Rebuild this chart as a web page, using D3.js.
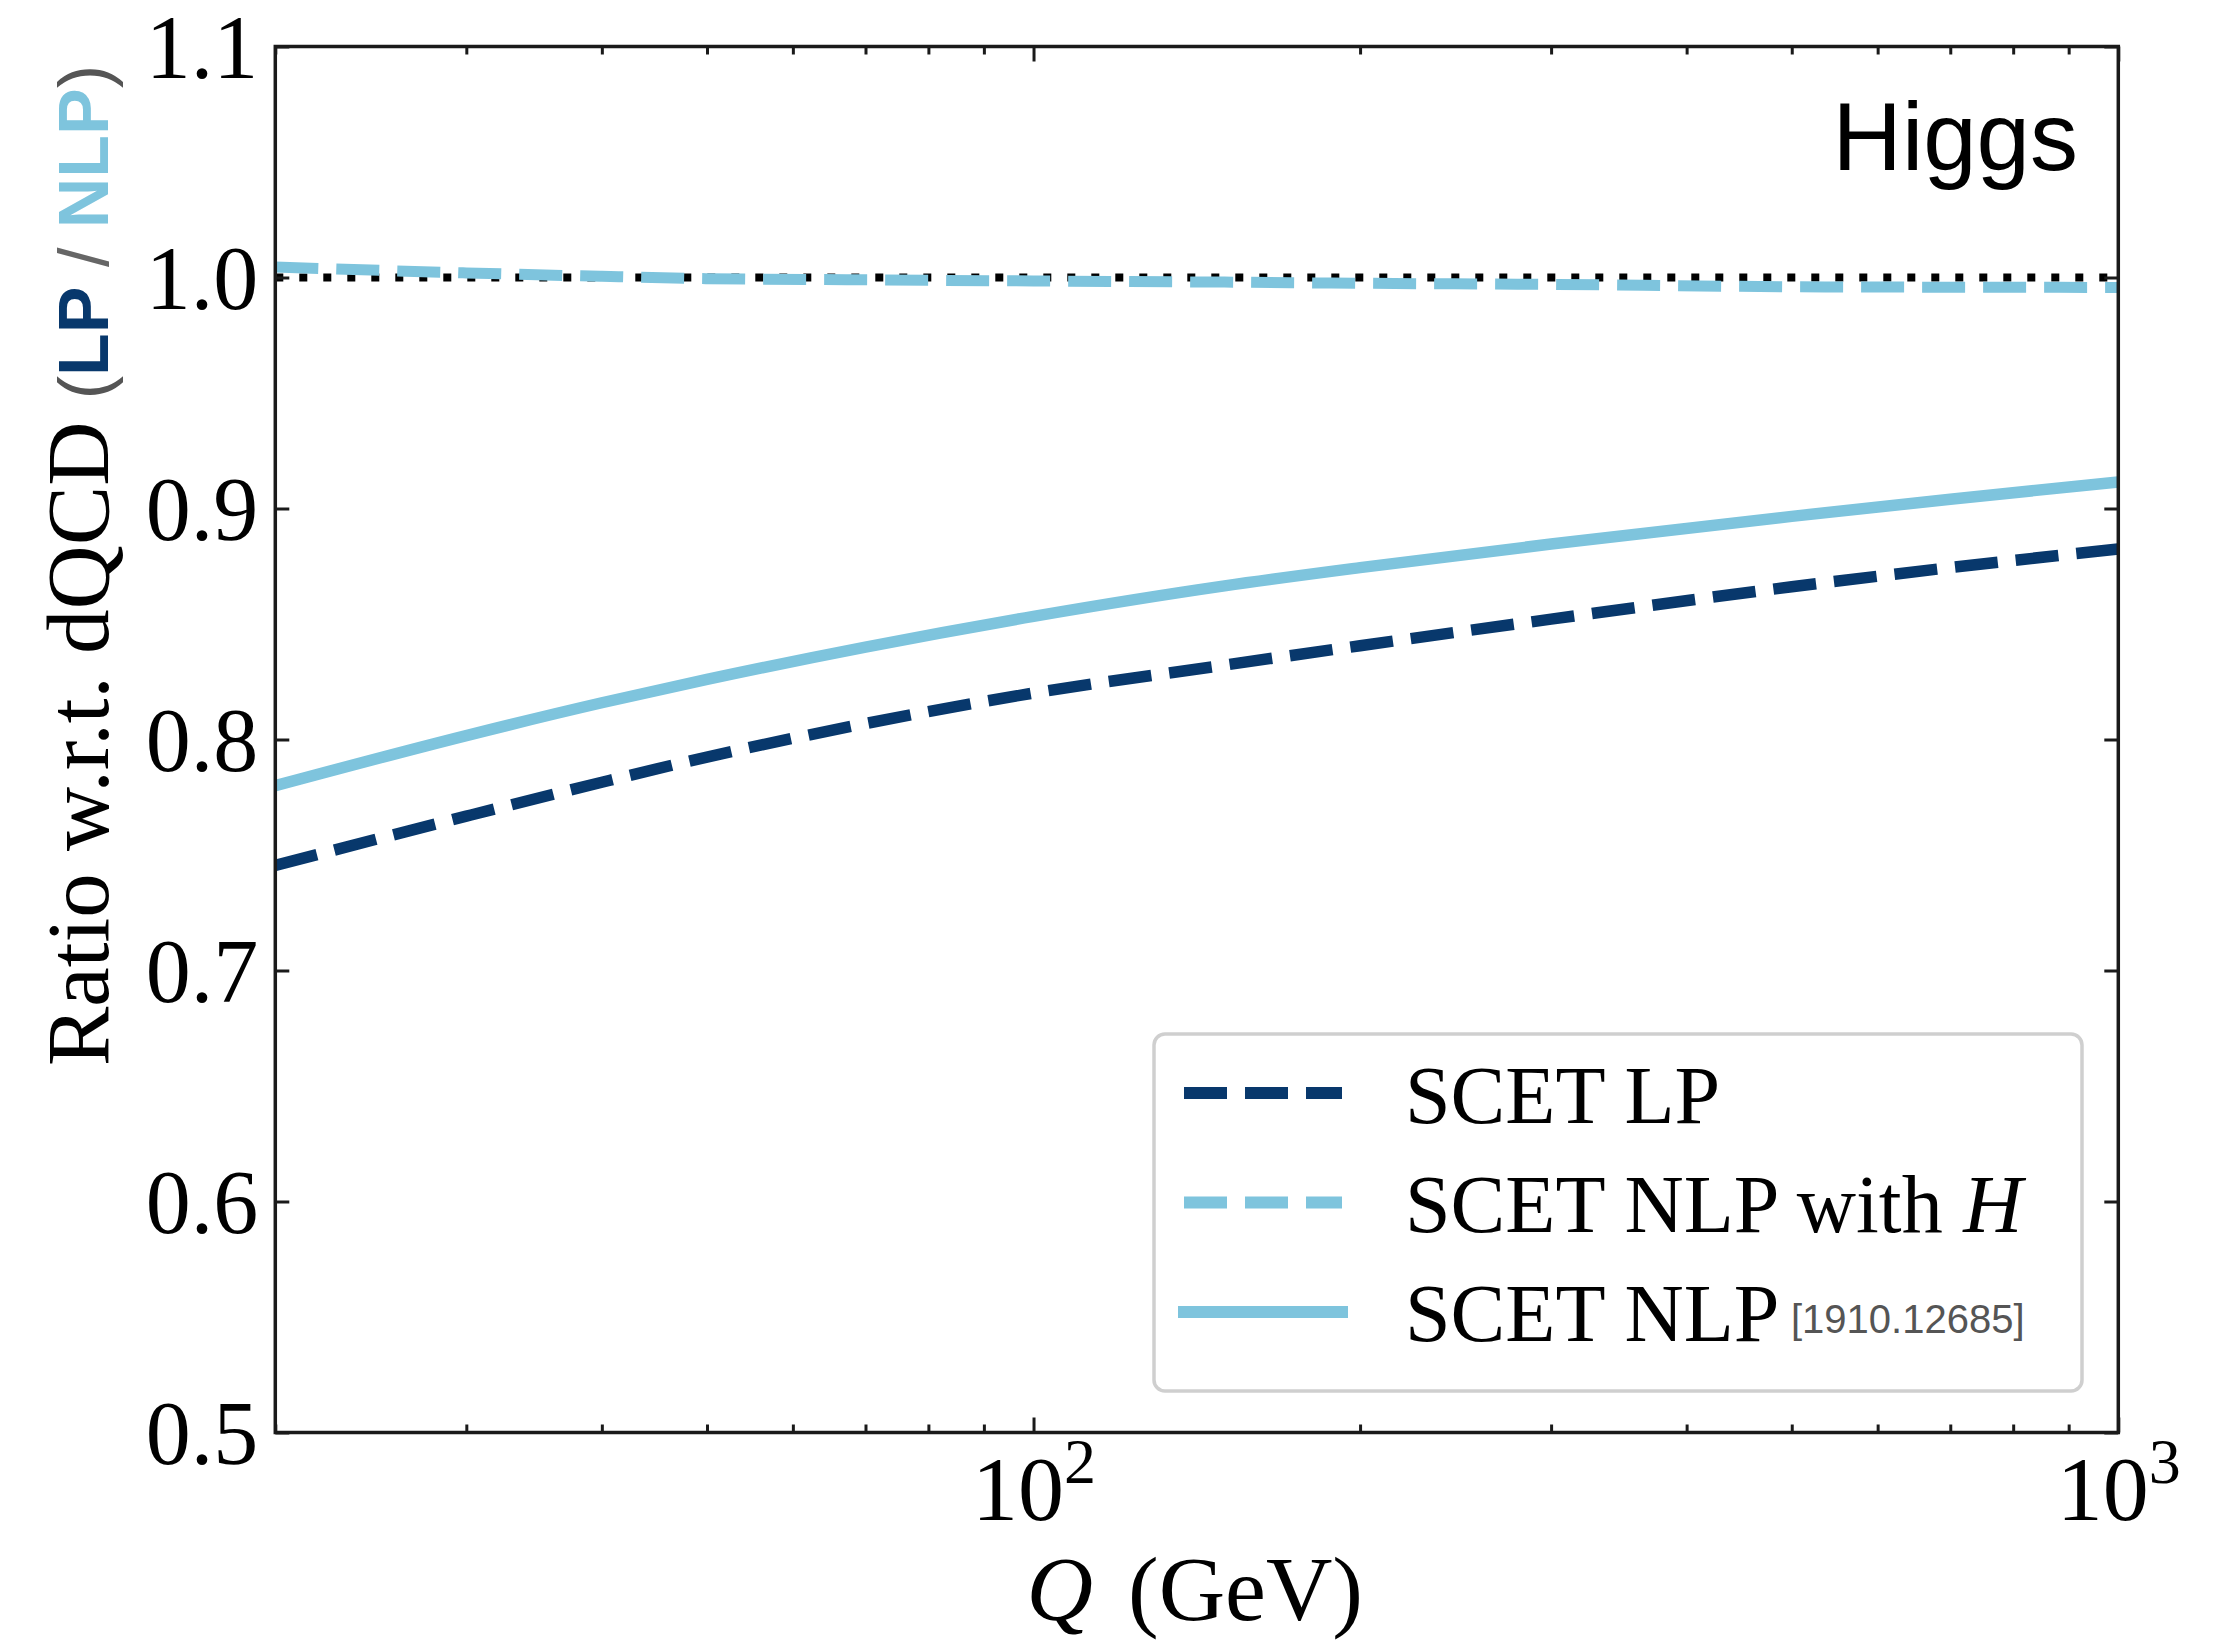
<!DOCTYPE html>
<html>
<head>
<meta charset="utf-8">
<script src="https://cdn.jsdelivr.net/npm/d3@7"></script>
<style>
  html, body { margin: 0; padding: 0; background: #fff; }
  svg { display: block; }
</style>
</head>
<body>
<svg id="chart" width="2229" height="1648"></svg>
<script>
// Hard-scale energy Q (GeV) at which the ratios are evaluated
const qValues = [20, 30, 40, 50, 70, 100, 150, 200, 300, 500, 700, 1000];

// Ratio to full QCD for each approximation
const scetLP        = [0.7455, 0.7668, 0.7815, 0.7924, 0.8069, 0.8201, 0.8322, 0.8406, 0.8521, 0.8661, 0.8744, 0.8825];
const scetNLPwithH  = [1.0045, 1.0020, 1.0005, 0.9995, 0.9990, 0.9985, 0.9980, 0.9975, 0.9970, 0.9960, 0.9958, 0.9957];
const scetNLP       = [0.7800, 0.8017, 0.8159, 0.8260, 0.8400, 0.8533, 0.8665, 0.8744, 0.8846, 0.8966, 0.9040, 0.9115];

const yTicks = [0.5, 0.6, 0.7, 0.8, 0.9, 1.0, 1.1];
const xMajorTicks = [100, 1000];
const xMinorTicks = [20, 30, 40, 50, 60, 70, 80, 90, 200, 300, 400, 500, 600, 700, 800, 900];

const legendLabels = ["SCET LP", "SCET NLP with ", "SCET NLP"];
const refLabel = "[1910.12685]";
const processLabel = "Higgs";

const dark = "#08386c";
const light = "#7ec4dd";
const serif = "'Liberation Serif', 'DejaVu Serif', serif";
const sans = "'Liberation Sans', Arial, sans-serif";

const svg = d3.select("#chart");
const X0 = 275.3, X1 = 2118.3, Y0 = 46.5, Y1 = 1432.5;

const x = d3.scaleLog().domain([20, 1000]).range([X0, X1]);
const y = d3.scaleLinear().domain([0.5, 1.1]).range([Y1, Y0]);

const plot = svg.append("g");
plot.append("clipPath").attr("id", "clip")
  .append("rect").attr("x", X0).attr("y", Y0).attr("width", X1 - X0).attr("height", Y1 - Y0);

// reference line at unity
plot.append("line")
  .attr("x1", X0).attr("x2", X1).attr("y1", y(1.0)).attr("y2", y(1.0))
  .attr("stroke", "#000").attr("stroke-width", 8)
  .attr("stroke-dasharray", "8,16");

const line = vals => d3.line()
  .x((d, i) => x(qValues[i]))
  .y(d => y(d))
  .curve(d3.curveMonotoneX)(vals);

const series = [
  { vals: scetLP, color: dark, dash: "43,18", width: 11.5 },
  { vals: scetNLPwithH, color: light, dash: "43,18", width: 11 },
  { vals: scetNLP, color: light, dash: null, width: 11.5 }
];

series.forEach(s => {
  plot.append("path")
    .attr("d", line(s.vals))
    .attr("clip-path", "url(#clip)")
    .attr("fill", "none")
    .attr("stroke", s.color)
    .attr("stroke-width", s.width)
    .attr("stroke-dasharray", s.dash)
    .attr("stroke-linecap", "butt");
});

// axes with inward ticks on all four sides
const axisColor = "#1a1a1a";
function styleAxis(g) {
  g.select(".domain").remove();
  g.selectAll(".tick line").attr("stroke", axisColor).attr("stroke-width", 3);
}

// left
const yAxis = svg.append("g").attr("transform", `translate(${X0},0)`)
  .call(d3.axisLeft(y).tickValues(yTicks).tickSizeInner(-14).tickSizeOuter(0).tickPadding(17)
    .tickFormat(d3.format(".1f")));
styleAxis(yAxis);
yAxis.selectAll(".tick text")
  .attr("font-family", serif).attr("font-size", 90).attr("fill", "#000").attr("dy", "0.34em");

// right
const yAxisR = svg.append("g").attr("transform", `translate(${X1},0)`)
  .call(d3.axisRight(y).tickValues(yTicks).tickSizeInner(-14).tickSizeOuter(0).tickFormat(""));
styleAxis(yAxisR);

// bottom major + minor
const xAxis = svg.append("g").attr("transform", `translate(0,${Y1})`)
  .call(d3.axisBottom(x).tickValues(xMajorTicks).tickSizeInner(-15).tickSizeOuter(0).tickPadding(22)
    .tickFormat(d => String(Math.round(Math.log10(d)))));
styleAxis(xAxis);
xAxis.selectAll(".tick text").each(function() {
  const t = d3.select(this);
  const ex = t.text();
  t.text(null).attr("font-family", serif).attr("font-size", 92).attr("fill", "#000")
    .attr("dy", "0.71em").attr("text-anchor", "middle");
  t.append("tspan").text("10");
  t.append("tspan").attr("font-size", 64).attr("dy", "-0.58em").text(ex);
});

const xMinor = svg.append("g").attr("transform", `translate(0,${Y1})`)
  .call(d3.axisBottom(x).tickValues(xMinorTicks).tickSizeInner(-8).tickSizeOuter(0).tickFormat(""));
styleAxis(xMinor);

// top
const xTop = svg.append("g").attr("transform", `translate(0,${Y0})`)
  .call(d3.axisTop(x).tickValues(xMajorTicks).tickSizeInner(-15).tickSizeOuter(0).tickFormat(""));
styleAxis(xTop);
const xTopMinor = svg.append("g").attr("transform", `translate(0,${Y0})`)
  .call(d3.axisTop(x).tickValues(xMinorTicks).tickSizeInner(-8).tickSizeOuter(0).tickFormat(""));
styleAxis(xTopMinor);

// frame
svg.append("rect")
  .attr("x", X0).attr("y", Y0).attr("width", X1 - X0).attr("height", Y1 - Y0)
  .attr("fill", "none").attr("stroke", axisColor).attr("stroke-width", 3.5);

// x title
const xt = svg.append("text")
  .attr("x", (X0 + X1) / 2 - 2).attr("y", 1620)
  .attr("text-anchor", "middle").attr("font-family", serif).attr("font-size", 92).attr("fill", "#000");
xt.append("tspan").attr("font-style", "italic").text("Q");
xt.append("tspan").attr("dx", 12).text(" (GeV)");

// y title
const yt = svg.append("text")
  .attr("transform", "translate(108,1066) rotate(-90)")
  .attr("text-anchor", "start").attr("font-family", serif).attr("font-size", 89).attr("fill", "#000");
yt.append("tspan").text("Ratio w.r.t. dQCD ");
yt.append("tspan").attr("font-family", sans).attr("font-size", 70).attr("fill", "#555").text("(");
yt.append("tspan").attr("font-family", sans).attr("font-size", 70).attr("font-weight", "bold").attr("fill", dark).text("LP");
yt.append("tspan").attr("font-family", sans).attr("font-size", 70).attr("fill", "#666").text(" / ");
yt.append("tspan").attr("font-family", sans).attr("font-size", 70).attr("font-weight", "bold").attr("fill", light).text("NLP");
yt.append("tspan").attr("font-family", sans).attr("font-size", 70).attr("fill", "#555").text(")");

// process label
svg.append("text")
  .attr("x", 2078).attr("y", 170).attr("text-anchor", "end")
  .attr("font-family", sans).attr("font-size", 96).attr("fill", "#000")
  .text(processLabel);

// legend
const lg = svg.append("g");
lg.append("rect")
  .attr("x", 1154).attr("y", 1034).attr("width", 928).attr("height", 357).attr("rx", 11)
  .attr("fill", "#fff").attr("stroke", "#cfcfcf").attr("stroke-width", 3.5);

const rowY = [1093, 1202.5, 1312];
const baseY = [1123, 1232, 1341];
series.forEach((s, i) => {
  lg.append("line")
    .attr("x1", s.dash ? 1184 : 1178).attr("x2", s.dash ? 1342 : 1348)
    .attr("y1", rowY[i]).attr("y2", rowY[i])
    .attr("stroke", s.color).attr("stroke-width", 12)
    .attr("stroke-dasharray", s.dash ? "43,18" : null);
  const t = lg.append("text")
    .attr("x", 1405).attr("y", baseY[i])
    .attr("font-family", serif).attr("font-size", 82).attr("fill", "#000")
    .text(legendLabels[i]);
  if (i === 1) t.append("tspan").attr("font-style", "italic").text("H");
});
lg.append("text")
  .attr("x", 1791).attr("y", 1333)
  .attr("font-family", sans).attr("font-size", 40).attr("fill", "#555")
  .text(refLabel);
</script>
</body>
</html>
